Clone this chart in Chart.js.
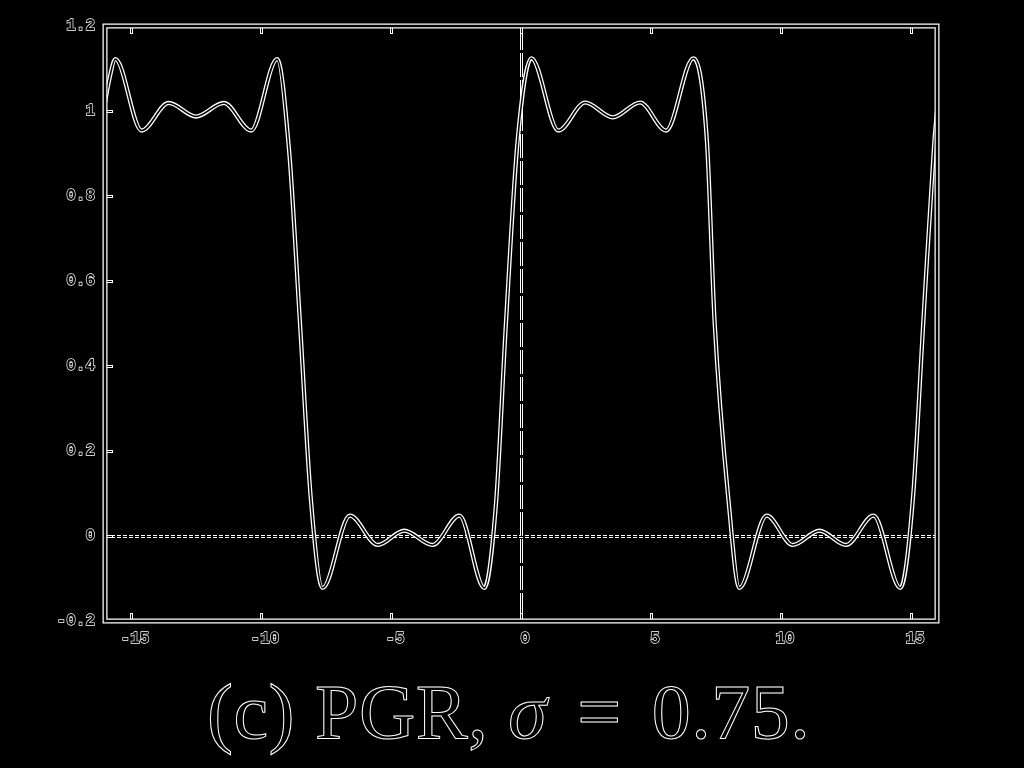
<!DOCTYPE html>
<html>
<head>
<meta charset="utf-8">
<script src="https://cdn.jsdelivr.net/npm/chart.js@4.4.1/dist/chart.umd.min.js"></script>
<style>
  html, body { margin: 0; padding: 0; background: #000; width: 1024px; height: 768px; overflow: hidden; }
  #wrap { position: absolute; left: 0; top: 0; width: 1024px; height: 660px; }
  #title { position: absolute; left: 207px; top: 673px; white-space: nowrap;
    font-family: "Liberation Serif", "DejaVu Serif", serif; font-size: 78px; line-height: 78px;
    color: #000; -webkit-text-stroke: 1px #fff; letter-spacing: 0.5px; }
  #title .eq { margin: 0 10px; }
</style>
</head>
<body>
<div id="wrap"><canvas id="c" width="1024" height="660"></canvas></div>
<div id="title">(c) PGR, <i>σ</i> <span class="eq">=</span> 0.75.</div>
<script>
// ---- data ----
const xs = [-16, -15.85, -15.6, -14.59, -13.55, -12.5, -11.43, -10.38, -9.38, -8.92, -8.5, -8.08, -7.63,
  -6.58, -5.51, -4.49, -3.40, -2.37, -1.41, -0.96, -0.58, -0.13, 0.40, 1.44, 2.47, 3.53, 4.58, 5.58,
  6.63, 7.15, 7.45, 7.99, 8.40, 9.45, 10.45, 11.48, 12.5, 13.56, 14.59, 15.07, 15.47, 15.9, 16];
const ys = [1.02, 1.07, 1.122, 0.954, 1.019, 0.987, 1.019, 0.954, 1.122, 0.907, 0.5, 0.085, -0.122,
  0.048, -0.021, 0.0125, -0.021, 0.048, -0.122, 0.078, 0.5, 0.93, 1.124, 0.954, 1.02, 0.985, 1.02, 0.954,
  1.124, 0.93, 0.5, 0.078, -0.122, 0.048, -0.021, 0.0125, -0.021, 0.048, -0.122, 0.085, 0.5, 0.93, 1.0];
const xTicks = [-15, -10, -5, 0, 5, 10, 15];
const xTickLabels = ['-15', '-10', '-5', '0', '5', '10', '15'];
const yTicks = [-0.2, 0, 0.2, 0.4, 0.6, 0.8, 1, 1.2];
const yTickLabels = ['-0.2', '0', '0.2', '0.4', '0.6', '0.8', '1', '1.2'];
const xRange = [-16, 16];
const yRange = [-0.2, 1.2];

const points = xs.map((x, i) => ({ x: x, y: ys[i] }));

const framePlugin = {
  id: 'framePlugin',
  beforeDatasetsDraw(chart) {
    const { ctx, chartArea: a, scales } = chart;
    const y0 = Math.round(scales.y.getPixelForValue(0)) + 0.5;
    const x0 = Math.round(scales.x.getPixelForValue(0)) + 0.5;
    ctx.save();
    // horizontal zero line (dotted, outlined look)
    ctx.setLineDash([4, 2]);
    ctx.strokeStyle = '#fff'; ctx.lineWidth = 3;
    ctx.beginPath(); ctx.moveTo(a.left, y0); ctx.lineTo(a.right, y0); ctx.stroke();
    ctx.strokeStyle = '#000'; ctx.lineWidth = 1;
    ctx.beginPath(); ctx.moveTo(a.left, y0); ctx.lineTo(a.right, y0); ctx.stroke();
    // vertical zero line
    ctx.setLineDash([24, 3]);
    ctx.strokeStyle = '#fff'; ctx.lineWidth = 3;
    ctx.beginPath(); ctx.moveTo(x0, a.top); ctx.lineTo(x0, a.bottom); ctx.stroke();
    ctx.strokeStyle = '#000'; ctx.lineWidth = 1;
    ctx.beginPath(); ctx.moveTo(x0, a.top); ctx.lineTo(x0, a.bottom); ctx.stroke();
    ctx.restore();
  },
  afterDatasetsDraw(chart) {
    const { ctx, chartArea: a, scales } = chart;
    ctx.save();
    ctx.setLineDash([]);
    // inward tick marks
    const tick = (x1, y1, x2, y2) => {
      ctx.strokeStyle = '#fff'; ctx.lineWidth = 3;
      ctx.beginPath(); ctx.moveTo(x1, y1); ctx.lineTo(x2, y2); ctx.stroke();
      ctx.strokeStyle = '#000'; ctx.lineWidth = 1;
      ctx.beginPath(); ctx.moveTo(x1, y1); ctx.lineTo(x2 - Math.sign(x2 - x1), y2 - Math.sign(y2 - y1)); ctx.stroke();
    };
    scales.x.ticks.forEach(t => {
      const px = Math.round(scales.x.getPixelForValue(t.value)) + 0.5;
      tick(px, a.bottom, px, a.bottom - 8);
      tick(px, a.top, px, a.top + 8);
    });
    scales.y.ticks.forEach(t => {
      const py = Math.round(scales.y.getPixelForValue(t.value)) + 0.5;
      tick(a.left, py, a.left + 8, py);
    });
    // frame (outlined)
    ctx.strokeStyle = '#fff'; ctx.lineWidth = 5;
    ctx.strokeRect(a.left, a.top, a.right - a.left, a.bottom - a.top);
    ctx.strokeStyle = '#000'; ctx.lineWidth = 2.5;
    ctx.strokeRect(a.left, a.top, a.right - a.left, a.bottom - a.top);
    ctx.restore();
  }
};

new Chart(document.getElementById('c'), {
  type: 'scatter',
  data: {
    datasets: [
      { data: points, showLine: true, borderColor: '#000', borderWidth: 1.6, pointRadius: 0,
        cubicInterpolationMode: 'monotone', order: 1 },
      { data: points, showLine: true, borderColor: '#fff', borderWidth: 4.2, pointRadius: 0,
        cubicInterpolationMode: 'monotone', order: 2 }
    ]
  },
  options: {
    responsive: false,
    animation: false,
    events: [],
    layout: { padding: { top: 26, right: 87, left: 0, bottom: 0 } },
    plugins: { legend: { display: false }, tooltip: { enabled: false }, title: { display: false } },
    scales: {
      x: {
        type: 'linear', min: xRange[0], max: xRange[1],
        afterBuildTicks: s => { s.ticks = xTicks.map(v => ({ value: v })); },
        afterFit: s => { s.height = 39; },
        grid: { display: false, drawTicks: false },
        border: { display: false },
        ticks: {
          callback: (v, i) => xTickLabels[i],
          color: '#000', textStrokeColor: '#fff', textStrokeWidth: 1.3,
          font: { family: 'Liberation Mono', size: 16, weight: 'bold' },
          padding: 8, labelOffset: 4, maxRotation: 0, autoSkip: false
        }
      },
      y: {
        type: 'linear', min: yRange[0], max: yRange[1],
        afterBuildTicks: s => { s.ticks = yTicks.map(v => ({ value: v })); },
        afterFit: s => { s.width = 105; },
        grid: { display: false, drawTicks: false },
        border: { display: false },
        ticks: {
          callback: (v, i) => yTickLabels[i],
          color: '#000', textStrokeColor: '#fff', textStrokeWidth: 1.3,
          font: { family: 'Liberation Mono', size: 16, weight: 'bold' },
          padding: 10, autoSkip: false
        }
      }
    }
  },
  plugins: [framePlugin]
});
</script>
</body>
</html>
